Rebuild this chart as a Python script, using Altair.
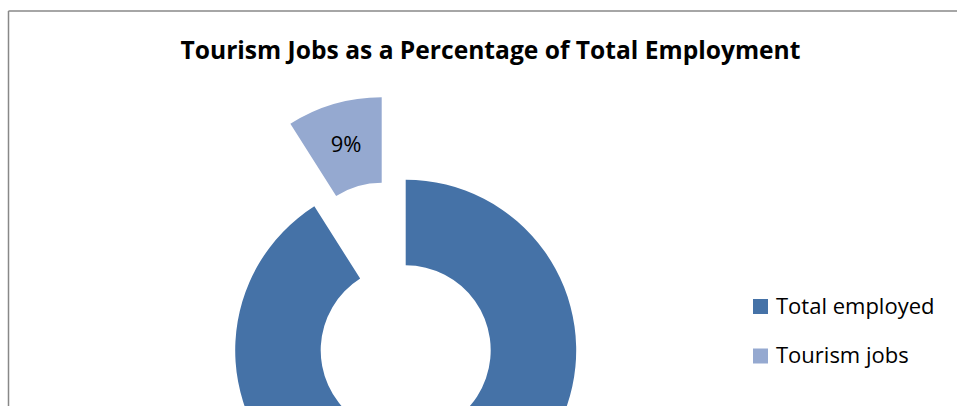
import altair as alt
import pandas as pd

categories = ["Total employed", "Tourism jobs"]
values = [91, 9]
labels = ["91%", "9%"]
order = [0, 1]
colors = ["#4572A7", "#95A9D0"]
title_text = "Tourism Jobs as a Percentage of Total Employment"

df = pd.DataFrame({"category": categories, "value": values, "label": labels, "order": order})

W, H = 957, 406
CX, CY = 405.7, 350.3
R_OUT, R_IN = 170.5, 85
EXPLODE = 86
FONT = "Open Sans"

base = (
    alt.Chart(df)
    .transform_joinaggregate(total="sum(value)")
    .transform_stack(stack="value", groupby=[], as_=["v0", "v1"], sort=[alt.SortField("order")])
    .transform_calculate(
        t0="2*PI*datum.v0/datum.total",
        t1="2*PI*datum.v1/datum.total",
        tm="PI*(datum.v0+datum.v1)/datum.total",
        ex=f"datum.category == 'Tourism jobs' ? {EXPLODE} : 0",
    )
    .transform_calculate(
        cx=f"{CX} + datum.ex*sin(datum.tm)",
        cy=f"{CY} - datum.ex*cos(datum.tm)",
    )
    .transform_calculate(
        lx=f"datum.cx + {(R_OUT + R_IN) / 2}*sin(datum.tm)",
        ly=f"datum.cy - {(R_OUT + R_IN) / 2}*cos(datum.tm)",
    )
)

arcs = base.mark_arc(innerRadius=R_IN, outerRadius=R_OUT).encode(
    theta=alt.Theta("t0:Q", scale=None),
    theta2="t1:Q",
    x=alt.X("cx:Q", scale=None, axis=None),
    y=alt.Y("cy:Q", scale=None, axis=None),
    color=alt.Color(
        "category:N",
        scale=alt.Scale(domain=categories, range=colors),
        legend=alt.Legend(
            title=None,
            orient="none",
            legendX=749.5,
            legendY=295.5,
            padding=0,
            symbolType="square",
            symbolSize=225,
            symbolStrokeWidth=0,
            symbolOpacity=1,
            labelFont=FONT,
            labelFontSize=22,
            labelColor="#000000",
            labelOffset=4.5,
            rowPadding=27.5,
            labelLimit=300,
        ),
    ),
)

# data labels; the one for the large slice falls below the visible frame
text = (
    base.transform_filter(f"datum.ly < {H} - 12")
    .mark_text(font=FONT, fontSize=22, color="#000000", baseline="middle", align="center")
    .encode(
        x=alt.X("lx:Q", scale=None, axis=None),
        y=alt.Y("ly:Q", scale=None, axis=None),
        text="label:N",
    )
)

one = alt.Data(values=[{"t": title_text}])
title = alt.Chart(one).mark_text(
    font=FONT, fontSize=24.6, fontWeight="bold", color="#000000", align="center", baseline="alphabetic"
).encode(x=alt.value(490.5), y=alt.value(59), text="t:N")

left_border = alt.Chart(one).mark_rule(color="#888888", strokeWidth=1.5).encode(
    x=alt.value(8.5), y=alt.value(11), y2=alt.value(H)
)
top_border = alt.Chart(one).mark_rule(color="#888888", strokeWidth=1.5).encode(
    x=alt.value(8.5), x2=alt.value(W), y=alt.value(11)
)

chart = (
    alt.layer(left_border, top_border, title, arcs, text)
    .properties(width=W, height=H, padding=0, autosize=alt.AutoSizeParams(type="none"), background="white")
    .configure_view(stroke=None)
)

chart.save("out.html", embed_options={"renderer": "svg", "actions": False})
